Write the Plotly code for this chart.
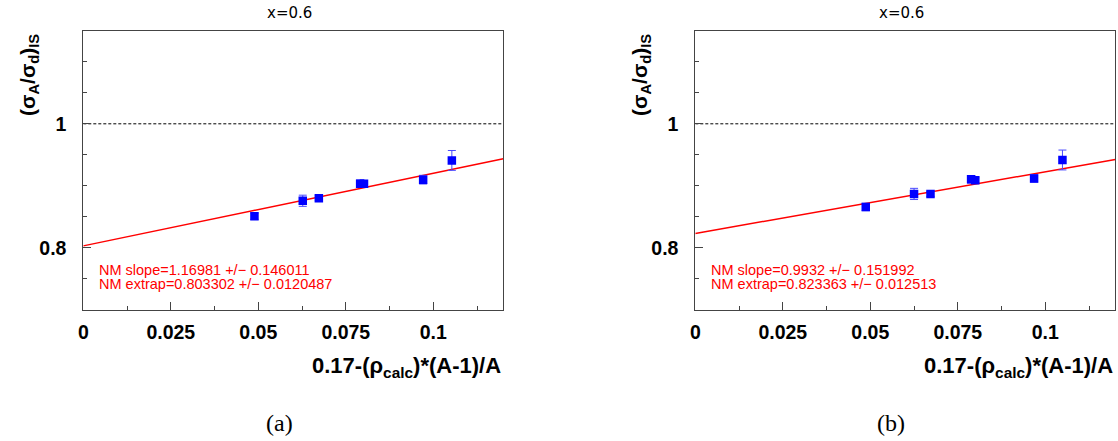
import plotly.graph_objects as go

# ---- data ----
x_a = [0.0489, 0.0627, 0.0673, 0.0791, 0.0802, 0.0971, 0.1053]
y_a = [0.851, 0.876, 0.880, 0.9035, 0.9035, 0.910, 0.941]
err_a = [0.005, 0.009, 0.004, 0.006, 0.004, 0.007, 0.016]
slope_a, icpt_a = 1.16981, 0.803302
slope_err_a, icpt_err_a = 0.146011, 0.0120487

x_b = [0.0487, 0.0625, 0.0672, 0.0788, 0.0800, 0.0968, 0.1049]
y_b = [0.866, 0.887, 0.887, 0.9105, 0.909, 0.912, 0.9417]
err_b = [0.006, 0.009, 0.004, 0.006, 0.004, 0.006, 0.016]
slope_b, icpt_b = 0.9932, 0.823363
slope_err_b, icpt_err_b = 0.151992, 0.012513

fit_x = [0.0, 0.12]
x_ticks = [0, 0.025, 0.05, 0.075, 0.1]
x_ticktext = ["0", "0.025", "0.05", "0.075", "0.1"]
x_minor = [0.0125, 0.0375, 0.0625, 0.0875, 0.1125]
y_ticks = [0.8, 1.0]
y_ticktext = ["0.8", "1"]
y_minor = [0.75, 0.85, 0.9, 0.95, 1.05, 1.1]
panel_title = "x=0.6"
x_title = "<b>0.17-(ρ<sub>calc</sub>)*(A-1)/A</b>"
y_title = "<b>(σ<sub>A</sub>/σ<sub>d</sub>)<sub>IS</sub></b>"
captions = ["(a)", "(b)"]

W, H = 1118, 441
def px(x):
    return x / W
def py(y):
    return 1 - y / H

left_dom = [px(83.3), px(503.3)]
right_dom = [px(695.3), px(1115.3)]
y_dom = [py(310), py(30.7)]

fig = go.Figure()
fig.update_layout(
    xaxis=dict(domain=left_dom, anchor="y"),
    yaxis=dict(domain=y_dom, anchor="x"),
    xaxis2=dict(domain=right_dom, anchor="y2"),
    yaxis2=dict(domain=y_dom, anchor="x2"),
)

panels = [
    ("x", "y", x_a, y_a, err_a, slope_a, icpt_a, slope_err_a, icpt_err_a, left_dom),
    ("x2", "y2", x_b, y_b, err_b, slope_b, icpt_b, slope_err_b, icpt_err_b, right_dom),
]

for i, (xa, ya, xs, ys, es, sl, ic, sle, ice, dom) in enumerate(panels):
    # reference line at 1
    fig.add_trace(go.Scatter(x=fit_x, y=[1.0, 1.0], mode="lines", xaxis=xa, yaxis=ya,
                             line=dict(color="black", width=1, dash="3px,2px"),
                             showlegend=False, hoverinfo="skip"))
    # fit line
    fig.add_trace(go.Scatter(x=fit_x, y=[ic + sl * v for v in fit_x], mode="lines",
                             xaxis=xa, yaxis=ya, line=dict(color="#ff0000", width=1.5),
                             showlegend=False))
    # data
    fig.add_trace(go.Scatter(x=xs, y=ys, mode="markers", xaxis=xa, yaxis=ya,
                             marker=dict(symbol="square", size=8.5, color="#0000ff",
                                         line=dict(width=0)),
                             error_y=dict(type="data", array=es, visible=True,
                                          color="#4a4aff", thickness=1, width=4),
                             showlegend=False))
    xc = (dom[0] + dom[1]) / 2
    # title
    fig.add_annotation(text=panel_title, xref="paper", yref="paper", x=xc - px(4), y=py(13.3),
                       xanchor="center", yanchor="middle", showarrow=False,
                       font=dict(family="DejaVu Sans", size=15, color="black"))
    # fit text
    x0 = dom[0] * W + 13.5
    fig.add_annotation(text=f"NM slope={sl:g} +/− {sle:g}", xref="paper", yref="paper",
                       x=px(x0), y=py(270), xanchor="left", yanchor="middle",
                       showarrow=False,
                       font=dict(family="Liberation Sans", size=14.5, color="#ff0000"))
    fig.add_annotation(text=f"NM extrap={ic:g} +/− {ice:g}", xref="paper", yref="paper",
                       x=px(x0), y=py(284), xanchor="left", yanchor="middle",
                       showarrow=False,
                       font=dict(family="Liberation Sans", size=14.5, color="#ff0000"))
    # x axis title
    fig.add_annotation(text=x_title, xref="paper", yref="paper", x=dom[1], y=py(367),
                       xanchor="right", yanchor="middle", showarrow=False,
                       font=dict(family="Liberation Sans", size=22, color="black"))
    # y axis title
    fig.add_annotation(text=y_title, xref="paper", yref="paper", x=dom[0] - px(55),
                       y=y_dom[1] - 0.002, xanchor="center", yanchor="top", textangle=-90,
                       showarrow=False,
                       font=dict(family="Liberation Sans", size=21, color="black"))
    # caption
    fig.add_annotation(text=captions[i], xref="paper", yref="paper", x=xc - px(14), y=py(423),
                       xanchor="center", yanchor="middle", showarrow=False,
                       font=dict(family="Liberation Serif", size=24, color="black"))

axis_common = dict(showgrid=False, zeroline=False, showline=True, linecolor="#444",
                   linewidth=1, mirror=True, ticks="inside", tickcolor="#444",
                   tickwidth=1, automargin=False)
for xa in ["xaxis", "xaxis2"]:
    fig.layout[xa].update(range=[0, 0.12], tickmode="array", tickvals=x_ticks,
                          ticktext=x_ticktext, ticklen=8, ticklabelstandoff=5,
                          tickfont=dict(family="Liberation Sans", size=19.5, color="black",
                                        weight="bold"),
                          minor=dict(tickmode="array", tickvals=x_minor, ticks="inside",
                                     ticklen=4, tickcolor="#444"),
                          **axis_common)
for ya in ["yaxis", "yaxis2"]:
    fig.layout[ya].update(range=[0.7, 1.15], tickmode="array", tickvals=y_ticks,
                          ticktext=y_ticktext, ticklen=8, ticklabelstandoff=12,
                          tickfont=dict(family="Liberation Sans", size=19.5, color="black",
                                        weight="bold"),
                          minor=dict(tickmode="array", tickvals=y_minor, ticks="inside",
                                     ticklen=4, tickcolor="#444"),
                          **axis_common)

fig.update_layout(width=W, height=H, margin=dict(l=0, r=0, t=0, b=0, autoexpand=False),
                  paper_bgcolor="white", plot_bgcolor="white", showlegend=False)

fig.write_html("out.html")
